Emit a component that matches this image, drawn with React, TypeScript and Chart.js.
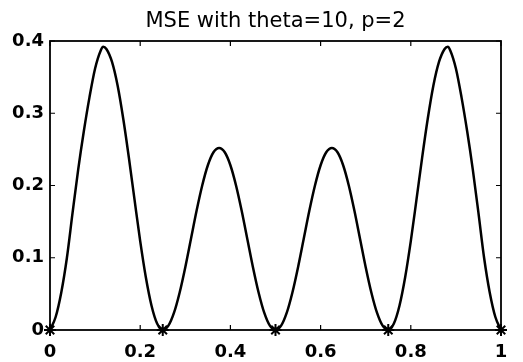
import React, { useEffect, useRef } from "react";
import { Chart, registerables } from "chart.js";

Chart.register(...registerables);

const titleText = "MSE with theta=10, p=2";

const xPoints = [
  0, 0.0125, 0.025, 0.0375, 0.05, 0.0625, 0.075, 0.0875, 0.1, 0.1125, 0.118, 0.125, 0.1375, 0.15, 0.1625, 0.175, 0.1875, 0.2, 0.2125, 0.225, 0.2375,
  0.25, 0.2625, 0.275, 0.2875, 0.3, 0.3125, 0.325, 0.3375, 0.35, 0.3625, 0.375, 0.3875, 0.4, 0.4125, 0.425, 0.4375, 0.45, 0.4625, 0.475, 0.4875,
  0.5, 0.5125, 0.525, 0.5375, 0.55, 0.5625, 0.575, 0.5875, 0.6, 0.6125, 0.625, 0.6375, 0.65, 0.6625, 0.675, 0.6875, 0.7, 0.7125, 0.725, 0.7375,
  0.75, 0.7625, 0.775, 0.7875, 0.8, 0.8125, 0.825, 0.8375, 0.85, 0.8625, 0.875, 0.882, 0.8875, 0.9, 0.9125, 0.925, 0.9375, 0.95, 0.9625, 0.975, 0.9875, 1,
];

const mseValues = [
  0, 0.018, 0.052, 0.1, 0.162, 0.222, 0.275, 0.322, 0.362, 0.387, 0.392, 0.389, 0.371, 0.338, 0.292, 0.238, 0.18, 0.123, 0.073, 0.034, 0.009,
  0, 0.006, 0.024, 0.052, 0.087, 0.126, 0.165, 0.2, 0.228, 0.246, 0.252, 0.246, 0.228, 0.2, 0.165, 0.126, 0.087, 0.052, 0.024, 0.006,
  0, 0.006, 0.024, 0.052, 0.087, 0.126, 0.165, 0.2, 0.228, 0.246, 0.252, 0.246, 0.228, 0.2, 0.165, 0.126, 0.087, 0.052, 0.024, 0.006,
  0, 0.009, 0.034, 0.073, 0.123, 0.18, 0.238, 0.292, 0.338, 0.371, 0.389, 0.392, 0.387, 0.362, 0.322, 0.275, 0.222, 0.162, 0.1, 0.052, 0.018, 0,
];

const markerX = [0, 0.25, 0.5, 0.75, 1];
const markerY = [0, 0, 0, 0, 0];

const xTicks = [0, 0.2, 0.4, 0.6, 0.8, 1];
const yTicks = [0, 0.1, 0.2, 0.3, 0.4];

const FONT = "'DejaVu Sans', 'Liberation Sans', sans-serif";

const framePlugin = {
  id: "matlabFrame",
  afterDraw(chart: any) {
    const { ctx, chartArea } = chart;
    const { left, right, top, bottom } = chartArea;
    const xs = chart.scales.x;
    const ys = chart.scales.y;
    ctx.save();
    ctx.strokeStyle = "#000";
    ctx.lineWidth = 1.8;
    ctx.strokeRect(left, top, right - left, bottom - top);
    const tl = 5;
    ctx.beginPath();
    xTicks.forEach((v) => {
      const px = xs.getPixelForValue(v);
      ctx.moveTo(px, bottom);
      ctx.lineTo(px, bottom - tl);
      ctx.moveTo(px, top);
      ctx.lineTo(px, top + tl);
    });
    yTicks.forEach((v) => {
      const py = ys.getPixelForValue(v);
      ctx.moveTo(left, py);
      ctx.lineTo(left + tl, py);
      ctx.moveTo(right, py);
      ctx.lineTo(right - tl, py);
    });
    ctx.lineWidth = 1.2;
    ctx.stroke();
    ctx.fillStyle = "#000";
    ctx.font = `21px ${FONT}`;
    ctx.textAlign = "center";
    ctx.textBaseline = "alphabetic";
    ctx.fillText(titleText, (left + right) / 2, 27);
    ctx.restore();
  },
};

export default function App() {
  const canvasRef = useRef<HTMLCanvasElement | null>(null);

  useEffect(() => {
    if (!canvasRef.current) return;
    const chart = new Chart(canvasRef.current, {
      type: "line",
      data: {
        datasets: [
          {
            label: "MSE",
            data: xPoints.map((x, i) => ({ x, y: mseValues[i] })),
            borderColor: "#000",
            borderWidth: 2.5,
            pointRadius: 0,
            tension: 0.4,
            cubicInterpolationMode: "monotone",
            fill: false,
          },
          {
            label: "nodes",
            data: markerX.map((x, i) => ({ x, y: markerY[i] })),
            showLine: false,
            pointStyle: "star",
            pointRadius: 6,
            borderColor: "#000",
            backgroundColor: "#000",
            pointBorderWidth: 2,
            clip: false,
          } as any,
        ],
      },
      options: {
        animation: false,
        responsive: false,
        maintainAspectRatio: false,
        layout: { padding: { left: 0, top: 41, right: 22, bottom: 0 } },
        plugins: {
          legend: { display: false },
          title: { display: false },
          tooltip: { enabled: false },
        },
        scales: {
          x: {
            type: "linear",
            min: 0,
            max: 1,
            grid: { display: false, drawTicks: false },
            border: { display: false },
            afterFit: (s: any) => {
              s.height = 32;
            },
            ticks: {
              stepSize: 0.2,
              padding: 12,
              color: "#000",
              font: { family: FONT, size: 18, weight: "bold" },
              callback: (v: any) => String(Number(Number(v).toFixed(1))),
              maxRotation: 0,
            },
          },
          y: {
            type: "linear",
            min: 0,
            max: 0.4,
            grid: { display: false, drawTicks: false },
            border: { display: false },
            afterFit: (s: any) => {
              s.width = 50;
            },
            ticks: {
              stepSize: 0.1,
              padding: 6,
              color: "#000",
              font: { family: FONT, size: 18, weight: "bold" },
              callback: (v: any) => String(Number(Number(v).toFixed(1))),
            },
          },
        },
      },
      plugins: [framePlugin],
    });
    return () => chart.destroy();
  }, []);

  return (
    <div style={{ position: "fixed", left: 0, top: 0, width: 523, height: 362, background: "#fff" }}>
      <canvas ref={canvasRef} width={523} height={362} style={{ display: "block" }} />
    </div>
  );
}
